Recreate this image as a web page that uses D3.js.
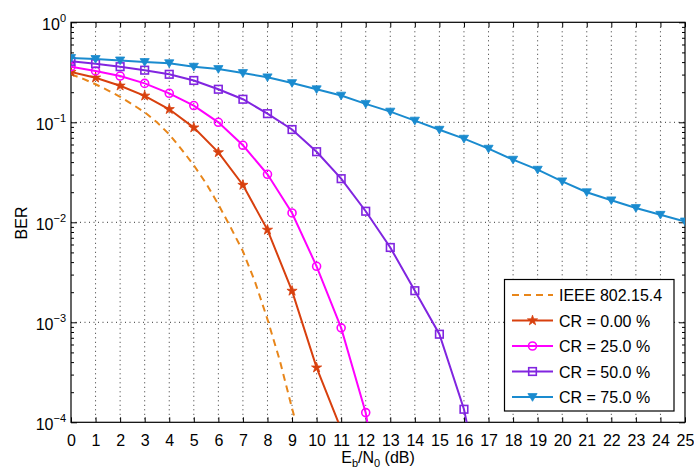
<!DOCTYPE html>
<html>
<head>
<meta charset="utf-8">
<style>
    body { margin: 0; background: #fff; }
    svg { font-family: "Liberation Sans", Arial, Helvetica, sans-serif; }
    .grid line { stroke: #333; stroke-width: 1; stroke-dasharray: 1,3.5; }
    .tick text { font-size: 16px; fill: #000; }
</style>
</head>
<body>
<svg width="694" height="470"></svg>

<script src="https://d3js.org/d3.v7.min.js"></script>
<script>

    // values
    let ebn0 = d3.range(0, 26)

    let cr0 = [0.318, 0.279, 0.232, 0.184, 0.135, 0.0885, 0.05, 0.0236, 0.0084, 0.00206, 0.000352, 0.000085]
    let cr25 = [0.36, 0.326, 0.29, 0.245, 0.195, 0.147, 0.1, 0.0589, 0.0302, 0.0124, 0.00363, 0.00088, 0.000125, 0.0000045]
    let cr50 = [0.407, 0.386, 0.36, 0.332, 0.302, 0.262, 0.214, 0.17, 0.122, 0.0847, 0.0508, 0.0273, 0.0129, 0.0056, 0.00207, 0.00076, 0.000135, 0.0000089]
    let cr75 = [0.44, 0.43, 0.416, 0.401, 0.39, 0.36, 0.341, 0.311, 0.282, 0.247, 0.214, 0.185, 0.153, 0.128, 0.104, 0.0843, 0.0686, 0.0545, 0.0423, 0.0336, 0.0257, 0.020, 0.0166, 0.0139, 0.0119, 0.0102]

    // IEEE 802.15.4 reference curve (no markers)
    let ieeeX = [0, 0.5, 1, 1.5, 2, 2.5, 3, 3.5, 4, 4.5, 5, 5.5, 6, 6.5, 7, 7.5, 8, 8.5, 9, 9.1]
    let ieeeY = [0.302, 0.272, 0.24, 0.209, 0.18, 0.151, 0.126, 0.1, 0.0759, 0.0537, 0.0372, 0.0245, 0.0151, 0.0089, 0.00513, 0.00251, 0.00107, 0.000417, 0.000138, 0.000112]

    let legendLabels = ["IEEE 802.15.4", "CR = 0.00 %", "CR = 25.0 %", "CR = 50.0 %", "CR = 75.0 %"]
    let xTicks = d3.range(0, 26)
    let yTicks = [1e-4, 1e-3, 1e-2, 1e-1, 1]
    let yExp = [-4, -3, -2, -1, 0]

    let pL = 71, pR = 685, pT = 22.3, pB = 422.3

    let svg = d3.select("svg")

    let x = d3.scaleLinear().domain([0, 25]).range([pL, pR])
    let y = d3.scaleLog().domain([1e-4, 1]).range([pB, pT])

    let minorTicks = []
    yTicks.slice(0, -1).forEach(d => {
        for (let k = 2; k <= 9; k++) minorTicks.push(d * k)
    })

    // grid
    let grid = svg.append("g").attr("class", "grid")
    grid.selectAll(".gx")
        .data(xTicks.filter(d => d > 0 && d < 25))
        .join("line")
        .attr("class", "gx")
        .attr("x1", d => x(d)).attr("x2", d => x(d))
        .attr("y1", pT).attr("y2", pB)
    grid.selectAll(".gy")
        .data(yTicks.filter(d => d > 1e-4 && d < 1))
        .join("line")
        .attr("class", "gy")
        .attr("x1", pL).attr("x2", pR)
        .attr("y1", d => y(d)).attr("y2", d => y(d))

    // axes (ticks pointing inward)
    svg.append("g")
        .attr("transform", `translate(0,${pB})`)
        .call(d3.axisBottom(x).tickValues(xTicks).tickFormat(d3.format("d")).tickSizeInner(-5).tickSizeOuter(0).tickPadding(12))
        .call(g => g.select(".domain").remove())

    svg.append("g")
        .attr("transform", `translate(0,${pT})`)
        .call(d3.axisTop(x).tickValues(xTicks).tickFormat("").tickSizeInner(-5).tickSizeOuter(0))
        .call(g => g.select(".domain").remove())

    svg.append("g")
        .attr("transform", `translate(${pL},0)`)
        .call(d3.axisLeft(y).tickValues(yTicks).tickFormat("").tickSizeInner(-6).tickSizeOuter(0))
        .call(g => g.select(".domain").remove())
    svg.append("g")
        .attr("transform", `translate(${pL},0)`)
        .call(d3.axisLeft(y).tickValues(minorTicks).tickFormat("").tickSizeInner(-3).tickSizeOuter(0))
        .call(g => g.select(".domain").remove())
    svg.append("g")
        .attr("transform", `translate(${pR},0)`)
        .call(d3.axisRight(y).tickValues(yTicks).tickFormat("").tickSizeInner(-6).tickSizeOuter(0))
        .call(g => g.select(".domain").remove())
    svg.append("g")
        .attr("transform", `translate(${pR},0)`)
        .call(d3.axisRight(y).tickValues(minorTicks).tickFormat("").tickSizeInner(-3).tickSizeOuter(0))
        .call(g => g.select(".domain").remove())

    // y tick labels 10^n
    let yl = svg.append("g")
        .selectAll("text")
        .data(yTicks)
        .join("text")
        .attr("x", pL - 5)
        .attr("y", d => y(d) + 8)
        .attr("text-anchor", "end")
        .style("font-size", "16px")
    yl.append("tspan").text("10")
    yl.append("tspan")
        .attr("dy", -8)
        .style("font-size", "11px")
        .text((d, i) => yExp[i] < 0 ? "\u2212" + Math.abs(yExp[i]) : yExp[i])

    // frame
    svg.append("rect")
        .attr("x", pL).attr("y", pT)
        .attr("width", pR - pL).attr("height", pB - pT)
        .style("fill", "none").style("stroke", "#000").style("stroke-width", 1.2)

    // axis titles
    svg.append("text")
        .attr("transform", `translate(27,223) rotate(-90)`)
        .attr("text-anchor", "middle")
        .style("font-size", "16px")
        .text("BER")

    let xl = svg.append("text")
        .attr("x", 378).attr("y", 463)
        .attr("text-anchor", "middle")
        .style("font-size", "16px")
    xl.append("tspan").text("E")
    xl.append("tspan").attr("dy", 4).style("font-size", "11px").text("b")
    xl.append("tspan").attr("dy", -4).text("/N")
    xl.append("tspan").attr("dy", 4).style("font-size", "11px").text("0")
    xl.append("tspan").attr("dy", -4).text(" (dB)")

    // series
    svg.append("clipPath").attr("id", "clip")
        .append("rect")
        .attr("x", pL).attr("y", pT)
        .attr("width", pR - pL).attr("height", pB - pT)

    let plot = svg.append("g").attr("clip-path", "url(#clip)")

    let line = d3.line().x(d => x(d[0])).y(d => y(d[1]))

    let starPath = d3.symbol().type(d3.symbolStar).size(32)()
    let trianglePath = "M-4.6,-3.4L4.6,-3.4L0,4.3Z"

    let series = [
        { label: legendLabels[1], vals: cr0, color: "#d8400e", marker: "star" },
        { label: legendLabels[2], vals: cr25, color: "#ff00ff", marker: "circle" },
        { label: legendLabels[3], vals: cr50, color: "#8125e0", marker: "square" },
        { label: legendLabels[4], vals: cr75, color: "#1a8bcf", marker: "tri" }
    ]

    function drawMarker(g, type, color) {
        if (type == "star") {
            g.append("path").attr("d", starPath).style("fill", color).style("stroke", color).style("stroke-width", 0.8)
        } else if (type == "circle") {
            g.append("circle").attr("r", 4).style("fill", "none").style("stroke", color).style("stroke-width", 1.6)
        } else if (type == "square") {
            g.append("rect").attr("x", -3.8).attr("y", -3.8).attr("width", 7.6).attr("height", 7.6)
                .style("fill", "none").style("stroke", color).style("stroke-width", 1.6)
        } else {
            g.append("path").attr("d", trianglePath).style("fill", color).style("stroke", color).style("stroke-width", 0.8)
        }
    }

    // IEEE dashed
    plot.append("path")
        .datum(ieeeX.map((d, i) => [d, ieeeY[i]]))
        .attr("d", line)
        .style("fill", "none")
        .style("stroke", "#e8861a")
        .style("stroke-width", 2)
        .style("stroke-dasharray", "7,5")

    series.forEach(s => {
        let pts = s.vals.map((v, i) => [ebn0[i], v])
        plot.append("path")
            .datum(pts)
            .attr("d", line)
            .style("fill", "none")
            .style("stroke", s.color)
            .style("stroke-width", 2)
        plot.append("g")
            .selectAll("g")
            .data(pts)
            .join("g")
            .attr("transform", d => `translate(${x(d[0])},${y(d[1])})`)
            .each(function () { drawMarker(d3.select(this), s.marker, s.color) })
    })

    // legend
    let lg = svg.append("g")
    lg.append("rect")
        .attr("x", 504.5).attr("y", 279.5)
        .attr("width", 169.5).attr("height", 131.5)
        .style("fill", "#fff").style("stroke", "#000").style("stroke-width", 1.2)

    let rowY = d3.scaleLinear().domain([0, 4]).range([295, 397])

    let ieeeRow = lg.append("g").attr("transform", `translate(0,${rowY(0)})`)
    ieeeRow.append("line").attr("x1", 512).attr("x2", 553)
        .style("stroke", "#e8861a").style("stroke-width", 2).style("stroke-dasharray", "7,5")
    ieeeRow.append("text").attr("x", 559).attr("y", 6).style("font-size", "16px").text(legendLabels[0])

    series.forEach((s, i) => {
        let row = lg.append("g").attr("transform", `translate(0,${rowY(i + 1)})`)
        row.append("line").attr("x1", 512).attr("x2", 553)
            .style("stroke", s.color).style("stroke-width", 2)
        let m = row.append("g").attr("transform", "translate(532.5,0)")
        drawMarker(m, s.marker, s.color)
        row.append("text").attr("x", 559).attr("y", 6).style("font-size", "16px").text(s.label)
    })

</script>
</body>
</html>
